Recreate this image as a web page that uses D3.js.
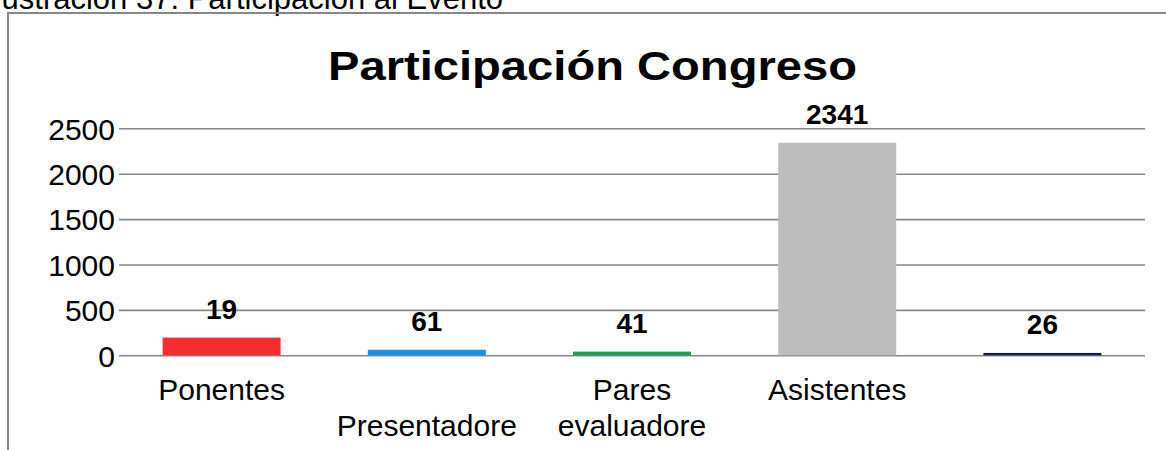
<!DOCTYPE html>
<html>
<head>
<meta charset="utf-8">
<script src="https://cdn.jsdelivr.net/npm/d3@7"></script>
<style>
	body{margin:0;background:#fff;}
	text{font-family:Arial,"Liberation Sans",sans-serif;}
</style>
</head>
<body>
<div id="chart"></div>
<script>
// datos
var categories = ["Ponentes","Presentadore","Pares evaluadore","Asistentes",""];
var label_lines = [["Ponentes"],["","Presentadore"],["Pares","evaluadore"],["Asistentes"],[""]];
var values = [195,61,41,2341,26];
var value_labels = ["19","61","41","2341","26"];
var colors = ["#f42e2e","#1b8fea","#19a34f","#bdbdbd","#161660"];
var y_ticks = [0,500,1000,1500,2000,2500];

var width = 1166;
var height = 450;

var svg = d3.select("#chart").append("svg")
			.attr("width",width)
			.attr("height",height);

// caption cortado arriba
svg.append("text")
   .attr("x",503)
   .attr("y",9)
   .attr("text-anchor","end")
   .style("font-size","31px")
   .attr("fill","#000")
   .text("Ilustración 37: Participación al Evento");

// marco
svg.append("rect")
   .attr("x",8)
   .attr("y",13)
   .attr("width",width)
   .attr("height",height)
   .attr("fill","none")
   .attr("stroke","#878787")
   .attr("stroke-width",2);

svg.append("text")
   .attr("x",592.5)
   .attr("y",80)
   .attr("text-anchor","middle")
   .attr("textLength",529)
   .attr("lengthAdjust","spacingAndGlyphs")
   .style("font-size","41px")
   .style("font-weight","bold")
   .text("Participación Congreso");

var x = d3.scaleBand()
		  .domain(categories)
		  .range([119,1145])
		  .paddingInner(0.425)
		  .paddingOuter(0.2125);

var y = d3.scaleLinear()
		  .domain([0,2500])
		  .range([355.3,128.3]);

var y_axis = d3.axisLeft(y)
			   .tickValues(y_ticks)
			   .tickSize(-(1145-119))
			   .tickPadding(4)
			   .tickFormat(d3.format("d"));

var axis_g = svg.append("g")
				.attr("transform","translate(119,0)")
				.call(y_axis);

axis_g.select(".domain").remove();
axis_g.selectAll("line")
	  .attr("stroke","#888")
	  .attr("stroke-width",1.6);
axis_g.selectAll("text")
	  .attr("fill","#000")
	  .attr("dy","0.36em")
	  .style("font-size","30px")
	  .style("font-family","Arial, 'Liberation Sans', sans-serif");

svg.selectAll(".bar")
   .data(values)
   .enter()
   .append("rect")
   .attr("class","bar")
   .attr("x",function(d,i){ return x(categories[i]); })
   .attr("y",function(d){ return y(d); })
   .attr("width",x.bandwidth())
   .attr("height",function(d){ return y(0) - y(d); })
   .attr("fill",function(d,i){ return colors[i]; });

svg.selectAll(".value_label")
   .data(values)
   .enter()
   .append("text")
   .attr("class","value_label")
   .attr("x",function(d,i){ return x(categories[i]) + x.bandwidth()/2; })
   .attr("y",function(d){ return y(d) - 19; })
   .attr("text-anchor","middle")
   .style("font-size","28px")
   .style("font-weight","bold")
   .text(function(d,i){ return value_labels[i]; });

// etiquetas de categoria (algunas en dos lineas)
var cat_g = svg.selectAll(".cat_label")
			   .data(categories)
			   .enter()
			   .append("text")
			   .attr("class","cat_label")
			   .attr("text-anchor","middle")
			   .style("font-size","30px");

cat_g.selectAll("tspan")
	 .data(function(d,i){ return label_lines[i].map(function(t){ return {t:t,c:d}; }); })
	 .enter()
	 .append("tspan")
	 .attr("x",function(d){ return x(d.c) + x.bandwidth()/2; })
	 .attr("y",function(d,j){ return 400 + j*36; })
	 .text(function(d){ return d.t; });
</script>
</body>
</html>
